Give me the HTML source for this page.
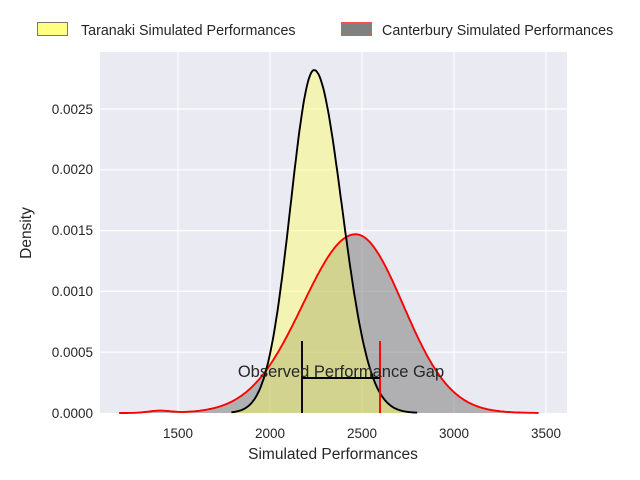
<!DOCTYPE html>
<html><head><meta charset="utf-8"><style>
body{margin:0;background:#fff;}
svg{display:block;font-family:"Liberation Sans",sans-serif;}
</style></head><body>
<svg id="s" width="640" height="480" xmlns="http://www.w3.org/2000/svg">
<rect x="100" y="52" width="467" height="361" fill="#eaeaf2"/>
<g stroke="#fff" stroke-width="1.2">
<line x1="178" y1="52" x2="178" y2="413"/><line x1="270" y1="52" x2="270" y2="413"/>
<line x1="362" y1="52" x2="362" y2="413"/><line x1="454" y1="52" x2="454" y2="413"/>
<line x1="546" y1="52" x2="546" y2="413"/>
<line x1="100" y1="352.2" x2="567" y2="352.2"/><line x1="100" y1="291.4" x2="567" y2="291.4"/>
<line x1="100" y1="230.6" x2="567" y2="230.6"/><line x1="100" y1="169.8" x2="567" y2="169.8"/>
<line x1="100" y1="109" x2="567" y2="109"/>
</g>
<path id="cf" fill="#808080" fill-opacity="0.55" stroke="none"/>
<path id="tf" fill="#ffff66" fill-opacity="0.45" stroke="none"/>
<path id="cl" fill="none" stroke="#ff0000" stroke-width="1.9"/>
<path id="tl" fill="none" stroke="#000" stroke-width="1.9"/>
<line x1="302" y1="341" x2="302" y2="413" stroke="#000" stroke-width="1.9"/>
<line x1="380" y1="341" x2="380" y2="413" stroke="#f00" stroke-width="1.9"/>
<line x1="302" y1="378" x2="380" y2="378" stroke="#000" stroke-width="1.9"/>
<text x="341" y="377" font-size="16.5" fill="#262626" text-anchor="middle">Observed Performance Gap</text>
<g font-size="13.5" fill="#262626" text-anchor="end">
<text x="93" y="418">0.0000</text><text x="93" y="357">0.0005</text><text x="93" y="296">0.0010</text>
<text x="93" y="235">0.0015</text><text x="93" y="174">0.0020</text><text x="93" y="114">0.0025</text>
</g>
<g font-size="13.5" fill="#262626" text-anchor="middle">
<text x="178" y="438">1500</text><text x="270" y="438">2000</text><text x="362" y="438">2500</text>
<text x="454" y="438">3000</text><text x="546" y="438">3500</text>
</g>
<text x="333" y="459" font-size="15.5" fill="#262626" text-anchor="middle">Simulated Performances</text>
<text transform="translate(31,233) rotate(-90)" font-size="15.5" fill="#262626" text-anchor="middle">Density</text>
<rect x="37.5" y="22.5" width="30" height="13" fill="#ffff80" stroke="#777" stroke-width="1"/>
<text x="81" y="35" font-size="14.3" fill="#262626">Taranaki Simulated Performances</text>
<rect x="341.5" y="22.5" width="30" height="13" fill="#808080" stroke="#e55" stroke-width="1"/>
<text x="382" y="35" font-size="14.3" fill="#262626">Canterbury Simulated Performances</text>
</svg>
<script>
function X(v){return 178+(v-1500)*0.184;}
function Y(d){return 413-d*121600;}
function sn(x,m,a,b,p){var s=x<m?a:b;var z=(x-m)/s;return p*Math.exp(-z*z/2);}
function T(x){return sn(x,2240,128,150,0.00282);}
function C(x){return sn(x,2465,287,258,0.00147)+0.000018*Math.exp(-Math.pow((x-1400)/60,2)/2);}
function build(f,a,b){var pts=[];for(var x=a;x<=b;x+=5){pts.push(X(x).toFixed(1)+","+Y(f(x)).toFixed(1));}
var l="M"+pts.join("L");var fl=l+"L"+X(b).toFixed(1)+",413L"+X(a).toFixed(1)+",413Z";return [l,fl];}
var c=build(C,1180,3460),t=build(T,1790,2800);
document.getElementById("cl").setAttribute("d",c[0]);document.getElementById("cf").setAttribute("d",c[1]);
document.getElementById("tl").setAttribute("d",t[0]);document.getElementById("tf").setAttribute("d",t[1]);
</script>
</body></html>
